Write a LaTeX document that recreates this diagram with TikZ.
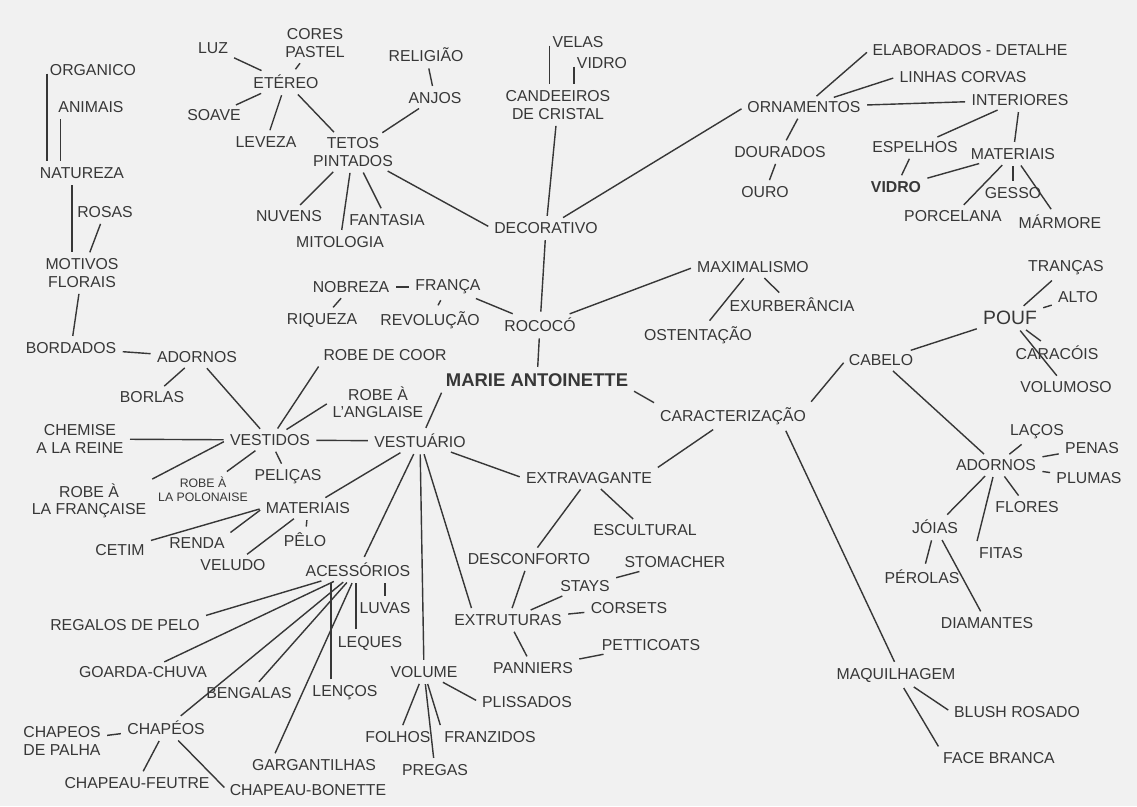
\documentclass[tikz,border=0pt]{standalone}
\usepackage{fontspec}
\setmainfont{Liberation Sans}
\usepackage{tikz}
\usetikzlibrary{positioning}
\definecolor{paper}{RGB}{241,241,241}
\definecolor{ink}{RGB}{55,55,55}

\begin{document}
\begin{tikzpicture}[x=0.02cm,y=-0.02cm,
	every node/.style={font=\fontsize{9}{10}\selectfont,text=ink,inner sep=1.5pt,align=center},
	every edge/.style={draw=ink,line width=0.8pt,shorten >=2pt,shorten <=2pt},
	tiny/.style={font=\fontsize{7}{8}\selectfont},
	big/.style={font=\fontsize{10.5}{12}\selectfont\bfseries}]
\fill[paper] (0,0) rectangle (1137,806);
\useasboundingbox (0,0) rectangle (1137,806);

\node (organico)	at (93,70)	{ORGANICO};
\node (animais)	at (91,107)	{ANIMAIS};
\node (natureza)	at (82,173)	{NATUREZA};
\node (rosas)	at (105,212)	{ROSAS};
\node (motivos)	at (82,273)	{MOTIVOS\\FLORAIS};
\node (bordados)	at (71,348)	{BORDADOS};
\node (adornosv)	at (197,357)	{ADORNOS};
\node (borlas)	at (152,397)	{BORLAS};

\node (luz)	at (213,48)	{LUZ};
\node (cores)	at (315,43)	{CORES\\PASTEL};
\node (etereo)	at (286,82)	{ETÉREO};
\node (soave)	at (214,115)	{SOAVE};
\node (leveza)	at (266,142)	{LEVEZA};
\node (tetos)	at (353,152)	{TETOS\\PINTADOS};
\node (nuvens)	at (289,216)	{NUVENS};
\node (mitologia)	at (340,242)	{MITOLOGIA};
\node (fantasia)	at (387,220)	{FANTASIA};
\node (religiao)	at (426,55)	{RELIGIÃO};
\node (anjos)	at (435,98)	{ANJOS};

\node (velas)	at (578,42)	{VELAS};
\node (vidroc)	at (602,63)	{VIDRO};
\node (candeeiros)	at (558,105)	{CANDEEIROS\\DE CRISTAL};
\node (decorativo)	at (546,228)	{DECORATIVO};
\node (ornamentos)	at (804,107)	{ORNAMENTOS};
\node (elaborados)	at (970,50)	{ELABORADOS - DETALHE};
\node (linhas)	at (963,77)	{LINHAS CORVAS};
\node (interiores)	at (1020,100)	{INTERIORES};
\node (dourados)	at (780,152)	{DOURADOS};
\node (ouro)	at (765,192)	{OURO};
\node (espelhos)	at (915,147)	{ESPELHOS};
\node (vidroe)	at (896,187)	{\bfseries VIDRO};
\node (materiaisi)	at (1013,154)	{MATERIAIS};
\node (porcelana)	at (953,216)	{PORCELANA};
\node (gesso)	at (1013,193)	{GESSO};
\node (marmore)	at (1060,222)	{MÁRMORE};

\node (rococo)	at (540,325)	{ROCOCÓ};
\node (nobreza)	at (351,287)	{NOBREZA};
\node (franca)	at (448,287)	{FRANÇA};
\node (riqueza)	at (322,320)	{RIQUEZA};
\node (revolucao)	at (430,320)	{REVOLUÇÃO};
\node (maximalismo)	at (753,267)	{MAXIMALISMO};
\node (exuberancia)	at (792,305)	{EXURBERÂNCIA};
\node (ostentacao)	at (698,335)	{OSTENTAÇÃO};
\node[big] (marie)	at (537,380)	{MARIE ANTOINETTE};

\node (caracterizacao)	at (733,416)	{CARACTERIZAÇÃO};
\node (cabelo)	at (881,360)	{CABELO};
\node[font=\fontsize{11}{12}\selectfont] (pouf)	at (1010,318)	{POUF};
\node (trancas)	at (1066,268)	{TRANÇAS};
\node (alto)	at (1078,297)	{ALTO};
\node (caracois)	at (1057,353)	{CARACÓIS};
\node (volumoso)	at (1066,387)	{VOLUMOSO};
\node (adornosc)	at (996,465)	{ADORNOS};
\node (lacos)	at (1037,432)	{LAÇOS};
\node (penas)	at (1092,448)	{PENAS};
\node (plumas)	at (1089,478)	{PLUMAS};
\node (flores)	at (1027,507)	{FLORES};
\node (joias)	at (935,527)	{JÓIAS};
\node (fitas)	at (1001,553)	{FITAS};
\node (perolas)	at (922,577)	{PÉROLAS};
\node (diamantes)	at (987,623)	{DIAMANTES};
\node (maquilhagem)	at (896,675)	{MAQUILHAGEM};
\node (blush)	at (1017,712)	{BLUSH ROSADO};
\node (face)	at (999,758)	{FACE BRANCA};

\node (vestuario)	at (420,441)	{VESTUÁRIO};
\node (vestidos)	at (270,440)	{VESTIDOS};
\node (robecoor)	at (385,355)	{ROBE DE COOR};
\node (robeanglaise)	at (378,402)	{ROBE À\\L'ANGLAISE};
\node (chemise)	at (80,439)	{CHEMISE\\A LA REINE};
\node (robefrancaise)	at (89,501)	{ROBE À\\LA FRANÇAISE};
\node[tiny] (robepolonaise)	at (203,489)	{ROBE À\\LA POLONAISE};
\node (pelicas)	at (288,477)	{PELIÇAS};
\node (materiaisv)	at (308,508)	{MATERIAIS};
\node (cetim)	at (120,550)	{CETIM};
\node (renda)	at (197,543)	{RENDA};
\node (veludo)	at (233,565)	{VELUDO};
\node (pelo)	at (305,540)	{PÊLO};
\node (acessorios)	at (358,570)	{ACESSÓRIOS};
\node (luvas)	at (385,608)	{LUVAS};
\node (leques)	at (370,643)	{LEQUES};
\node (regalos)	at (125,625)	{REGALOS DE PELO};
\node (goarda)	at (143,672)	{GOARDA-CHUVA};
\node (bengalas)	at (249,693)	{BENGALAS};
\node (lencos)	at (345,693)	{LENÇOS};
\node (chapeos)	at (166,728)	{CHAPÉOS};
\node (palha)	at (62,741)	{CHAPEOS\\DE PALHA};
\node (gargantilhas)	at (314,765)	{GARGANTILHAS};
\node (feutre)	at (137,783)	{CHAPEAU-FEUTRE};
\node (bonette)	at (308,790)	{CHAPEAU-BONETTE};
\node (volume)	at (424,672)	{VOLUME};
\node (folhos)	at (398,737)	{FOLHOS};
\node (pregas)	at (435,770)	{PREGAS};
\node (franzidos)	at (490,737)	{FRANZIDOS};
\node (plissados)	at (527,702)	{PLISSADOS};
\node (extravagante)	at (589,478)	{EXTRAVAGANTE};
\node (escultural)	at (645,530)	{ESCULTURAL};
\node (desconforto)	at (529,559)	{DESCONFORTO};
\node (extruturas)	at (508,620)	{EXTRUTURAS};
\node (stays)	at (585,586)	{STAYS};
\node (stomacher)	at (675,562)	{STOMACHER};
\node (corsets)	at (629,608)	{CORSETS};
\node (petticoats)	at (651,645)	{PETTICOATS};
\node (panniers)	at (533,668)	{PANNIERS};

\path	(organico.west)	edge (organico.west |- natureza.north)
	([xshift=3pt]animais.south west)	edge ([xshift=3pt]animais.south west |- natureza.north)
	([xshift=20pt]natureza.south west)	edge ([xshift=20pt]natureza.south west |- motivos.north)
	(rosas)	edge (motivos)
	(motivos)	edge (bordados)
	(adornosv)	edge (bordados)
			edge (borlas)
			edge (vestidos);

\path	(etereo)	edge (luz)
			edge (cores)
			edge (soave)
			edge (leveza)
			edge (tetos)
	(tetos)	edge (nuvens)
			edge (mitologia)
			edge (fantasia)
			edge (anjos)
			edge (decorativo.west)
	(anjos)	edge (religiao);

\path	(velas.west)	edge (velas.west |- candeeiros.north)
	(vidroc.west)	edge (vidroc.west |- candeeiros.north)
	(candeeiros)	edge (decorativo)
	(decorativo)	edge (ornamentos.west)
			edge (rococo)
	(ornamentos)	edge (elaborados.west)
			edge (linhas.west)
			edge (interiores)
			edge (dourados)
	(dourados)	edge (ouro)
	(interiores)	edge (espelhos)
			edge (materiaisi)
	(vidroe)	edge (espelhos)
			edge (materiaisi)
	(materiaisi)	edge (porcelana)
			edge (gesso)
			edge (marmore);

\path	(rococo)	edge (franca)
			edge (maximalismo.west)
			edge (marie)
	(franca)	edge (nobreza)
			edge (revolucao)
	(nobreza)	edge (riqueza)
	(maximalismo)	edge (ostentacao)
			edge (exuberancia)
	(marie.south west)	edge (vestuario)
	(marie.south east)	edge (caracterizacao.north west);

\path	(caracterizacao.north east)	edge (cabelo.west)
	(caracterizacao)	edge (extravagante.north east)
	([xshift=-14pt]caracterizacao.south east)	edge (maquilhagem.north)
	(cabelo)	edge (pouf)
			edge (adornosc)
	(pouf)	edge (trancas)
			edge (alto)
			edge (caracois)
			edge (volumoso)
	(adornosc)	edge (lacos)
			edge (penas)
			edge (plumas)
			edge (flores)
			edge (joias)
			edge (fitas.north west)
	(joias)	edge (perolas)
			edge (diamantes)
	(maquilhagem)	edge (blush.west)
			edge (face.north west);

\path	(vestuario)	edge (vestidos)
			edge (materiaisv)
			edge (acessorios)
			edge (volume)
			edge ([xshift=12pt]extruturas.north west)
			edge (extravagante.west)
	(vestidos)	edge (robecoor.south west)
			edge (robeanglaise.west)
			edge (chemise)
			edge (robepolonaise)
			edge (pelicas)
	(vestidos.west)	edge (robefrancaise.north east)
	(materiaisv.west)	edge (cetim.north east)
			edge (renda.north east)
	(materiaisv)	edge (veludo)
			edge (pelo);

\path	(acessorios)	edge (regalos.north east)
			edge (goarda)
			edge (chapeos)
			edge (bengalas)
			edge ([xshift=14pt]gargantilhas.north west)
	([xshift=-8pt]lencos.north)	edge ([xshift=-8pt]lencos.north |- acessorios.south)
	([xshift=-8pt]leques.north)	edge ([xshift=-8pt]leques.north |- acessorios.south)
	(luvas.north)	edge (luvas.north |- acessorios.south)
	(chapeos)	edge (palha)
			edge (feutre)
			edge (bonette.west)
	(volume)	edge (folhos)
			edge (pregas)
			edge (franzidos.north west)
			edge (plissados.west);

\path	(extravagante)	edge (escultural)
			edge (desconforto)
	(desconforto)	edge (extruturas)
	(extruturas)	edge (stays)
			edge (corsets)
			edge (panniers)
	(stays)	edge (stomacher)
	(panniers)	edge (petticoats);
\end{tikzpicture}
\end{document}
